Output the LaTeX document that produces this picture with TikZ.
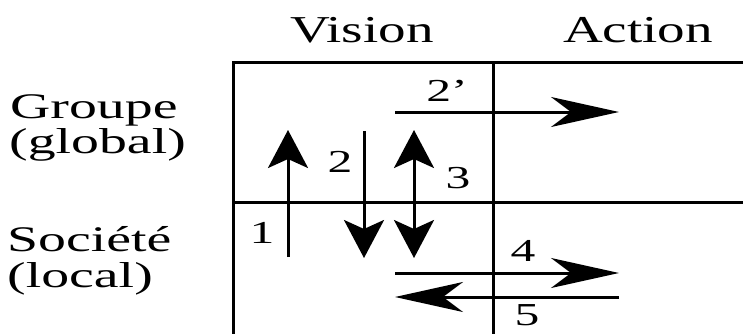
\documentclass[tikz,border=0pt]{standalone}
\usepackage{fontspec}
\usepackage{graphicx}
\setmainfont{Liberation Serif}
\usetikzlibrary{arrows.meta}
\newcommand{\wide}[1]{\scalebox{1.55}[1]{#1}}
\newcommand{\hwide}[1]{\scalebox{1.45}[1]{#1}}
\tikzset{
  grid/.style={line width=3pt},
  shaft/.style={line width=3pt},
  vtip/.style={-{Stealth[length=38pt,width=40pt,inset=9pt]}},
  vtips/.style={{Stealth[length=38pt,width=40pt,inset=9pt]}-{Stealth[length=38pt,width=40pt,inset=9pt]}},
  htip/.style={-{Stealth[length=68pt,width=30pt,inset=20pt]}},
  head/.style={font=\fontsize{38}{40}\selectfont, inner sep=0pt, anchor=base},
  side/.style={font=\fontsize{36}{40}\selectfont, inner sep=0pt, anchor=base west},
  num/.style={font=\fontsize{32}{36}\selectfont, inner sep=0pt, anchor=base},
}
\begin{document}
\begin{tikzpicture}[x=1pt,y=-1pt]
\useasboundingbox (0,0) rectangle (743,334);
% grid
\coordinate (tl) at (233,63);
\coordinate (tr) at (743,63);
\coordinate (bl) at (233,334);
\coordinate (ml) at (233,202);
\coordinate (mr) at (743,202);
\coordinate (mt) at (493,63);
\coordinate (mb) at (493,334);
\draw[grid] (bl) -- (tl) -- (tr);
\draw[grid] (ml) -- (mr);
\draw[grid] (mt) -- (mb);
% headers
\node[head] (vision) at (362,43) {\hwide{Vision}};
\node[head] (action) at (638,43) {\hwide{Action}};
\node[side] (groupe) at (10,118) {\wide{Groupe}};
\node[side] (global) at (9,153) {\wide{(global)}};
\node[side] (societe) at (7,251) {\wide{Société}};
\node[side] (local) at (7,287) {\wide{(local)}};
% arrows
\coordinate (a1s) at (288,257); \coordinate (a1e) at (288,130);
\coordinate (a2s) at (364,131); \coordinate (a2e) at (364,258);
\coordinate (a3s) at (414,258); \coordinate (a3e) at (414,130);
\coordinate (a2ps) at (395,112); \coordinate (a2pe) at (619,112);
\coordinate (a4s) at (395,273); \coordinate (a4e) at (619,273);
\coordinate (a5s) at (619,297); \coordinate (a5e) at (395,297);
\draw[shaft,vtip] (a1s) -- (a1e);
\draw[shaft,vtip] (a2s) -- (a2e);
\draw[shaft,vtips] (a3s) -- (a3e);
\draw[shaft,htip] (a2ps) -- (a2pe);
\draw[shaft,htip] (a4s) -- (a4e);
\draw[shaft,htip] (a5s) -- (a5e);
% labels
\node[num] (n1) at (262,243) {\wide{1}};
\node[num] (n2) at (340,172) {\wide{2}};
\node[num] (n3) at (458,188) {\wide{3}};
\node[num] (n2p) at (447,102) {\wide{2’}};
\node[num] (n4) at (523,261) {\wide{4}};
\node[num] (n5) at (527,325) {\wide{5}};
\end{tikzpicture}
\end{document}
